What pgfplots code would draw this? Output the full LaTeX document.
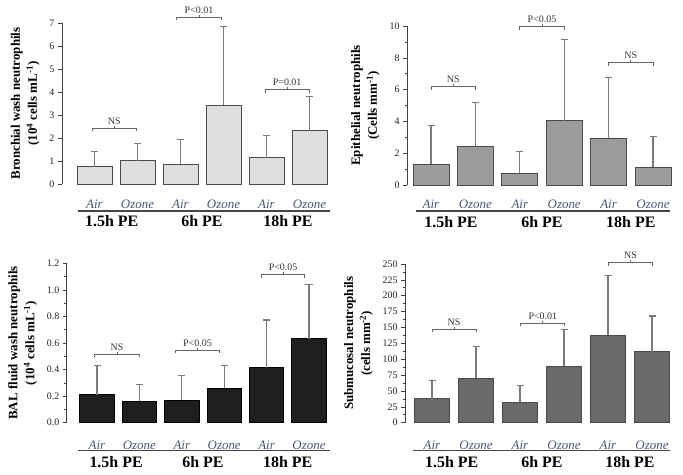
\documentclass[border=0pt]{standalone}
\usepackage{fontspec}
\setmainfont{Liberation Serif}
\usepackage{pgfplots}
\pgfplotsset{compat=1.18}
\definecolor{lbl}{HTML}{4B5478}
\definecolor{errc}{HTML}{7A7A7A}
\definecolor{fillA}{HTML}{DEDEDE}
\definecolor{fillB}{HTML}{9C9C9C}
\definecolor{fillC}{HTML}{1E1E1E}
\definecolor{fillD}{HTML}{6A6A6A}
\definecolor{edge}{HTML}{4A4A4A}

\tikzset{
  grp/.style={font=\fontsize{16}{18}\selectfont\bfseries},
  ptxt/.style={above, inner sep=1pt, font=\fontsize{10}{12}\selectfont, text=black!80},
  uline/.style={draw=black!72, line width=1.2bp},
}

\pgfplotsset{
  panel/.style={
    anchor=origin, clip=false, ybar, enlargelimits=false,
    axis y line*=left, axis x line*=bottom,
    x axis line style={draw=none},
    y axis line style={-, draw=black!75, line width=0.8bp},
    xtick={0,...,5}, xticklabels={Air,Ozone,Air,Ozone,Air,Ozone},
    major x tick style={draw=none},
    xticklabel style={anchor=center, font=\fontsize{13}{15}\selectfont\itshape, text=lbl},
    ymin=0,
    tick align=outside,
    major tick length=4bp, minor tick length=2.5bp,
    y tick style={black!75, line width=0.6bp},
    yticklabel style={font=\fontsize{10}{12}\selectfont, text=black!85},
    /pgf/number format/assume math mode=true,
    ylabel style={font=\fontsize{13}{17}\selectfont\bfseries, align=center},
    ylabel shift=3bp,
  },
  eb/.style={
    error bars/.cd, y dir=plus, y explicit,
    error bar style={errc, line width=1.2bp},
    error mark options={errc, line width=1.2bp, mark size=3.5bp, rotate=90},
  },
  br/.style={sharp plot, mark=none, forget plot, black!60, line width=0.8bp},
}

\begin{document}
\begin{tikzpicture}
\useasboundingbox (0,0) rectangle (683bp,-475bp);

% Panel 1
\begin{axis}[panel, name=p1, at={(94.5bp,-184bp)}, x=43bp, y=23bp,
  xmin=-0.756, xmax=5.5, ymax=7, ytick={0,1,...,7}, bar width=35bp,
  xticklabel style={yshift=-16bp},
  ylabel={Bronchial wash neutrophils\\(10\textsuperscript{4} cells mL\textsuperscript{-1})}]
\addplot[fill=fillA, draw=edge, line width=0.8bp, eb] coordinates {
  (0,0.755) +- (0,0.655)
  (1,1.02) +- (0,0.75)
  (2,0.86) +- (0,1.09)
  (3,3.43) +- (0,3.42)
  (4,1.15) +- (0,0.96)
  (5,2.32) +- (0,1.48)
};
\addplot[br] coordinates {(-0.06,2.30) (-0.06,2.43) (0.98,2.43) (0.98,2.30)};
\addplot[br] coordinates {(0.46,2.43) (0.46,2.539)};
\node[ptxt] at (axis cs:0.46,2.539) {NS};
\addplot[br] coordinates {(1.91,7.13) (1.91,7.26) (2.94,7.26) (2.94,7.13)};
\addplot[br] coordinates {(2.43,7.26) (2.43,7.369)};
\node[ptxt] at (axis cs:2.43,7.369) {P<0.01};
\addplot[br] coordinates {(3.97,3.97) (3.97,4.10) (4.99,4.10) (4.99,3.97)};
\addplot[br] coordinates {(4.48,4.10) (4.48,4.209)};
\node[ptxt] at (axis cs:4.48,4.209) {P=0.01};
\node[grp] at ([yshift=-37bp]axis cs:0.4,0) {1.5h PE};
\node[grp] at ([yshift=-37bp]axis cs:2.5,0) {6h PE};
\node[grp] at ([yshift=-37bp]axis cs:4.5,0) {18h PE};
\end{axis}
\draw[uline] ([xshift=-16.3bp, yshift=-27bp]p1.origin) -- ([xshift=235.6bp, yshift=-27bp]p1.origin);

% Panel 2
\begin{axis}[panel, name=p2, at={(431bp,-185bp)}, x=44.4bp, y=15.9bp,
  xmin=-0.54, xmax=5.4, ymax=10, ytick={0,2,...,10}, minor y tick num=1, bar width=36bp,
  xticklabel style={yshift=-15bp},
  ylabel={Epithelial neutrophils\\(Cells mm\textsuperscript{-1})}]
\addplot[fill=fillB, draw=edge, line width=0.8bp, eb] coordinates {
  (0,1.32) +- (0,2.41)
  (1,2.43) +- (0,2.77)
  (2,0.75) +- (0,1.35)
  (3,4.05) +- (0,5.11)
  (4,2.96) +- (0,3.81)
  (5,1.11) +- (0,1.93)
};
\addplot[br] coordinates {(0,5.991) (0,6.18) (1,6.18) (1,5.991)};
\addplot[br] coordinates {(0.5,6.18) (0.5,6.337)};
\node[ptxt] at (axis cs:0.5,6.337) {NS};
\addplot[br] coordinates {(2,9.771) (2,9.96) (3,9.96) (3,9.771)};
\addplot[br] coordinates {(2.5,9.96) (2.5,10.117)};
\node[ptxt] at (axis cs:2.5,10.117) {P<0.05};
\addplot[br] coordinates {(4,7.501) (4,7.69) (5,7.69) (5,7.501)};
\addplot[br] coordinates {(4.5,7.69) (4.5,7.847)};
\node[ptxt] at (axis cs:4.5,7.847) {NS};
\node[grp] at ([yshift=-37bp]axis cs:0.45,0) {1.5h PE};
\node[grp] at ([yshift=-37bp]axis cs:2.5,0) {6h PE};
\node[grp] at ([yshift=-37bp]axis cs:4.5,0) {18h PE};
\end{axis}
\draw[uline] ([xshift=-15.1bp, yshift=-26bp]p2.origin) -- ([xshift=238.9bp, yshift=-26bp]p2.origin);

% Panel 3
\begin{axis}[panel, name=p3, at={(97bp,-422.7bp)}, x=42.4bp, y=132.8bp,
  xmin=-0.71, xmax=5.5, ymax=1.2, ytick={0,0.2,...,1.21}, minor y tick num=1, bar width=34.3bp,
  yticklabel style={/pgf/number format/.cd, fixed, fixed zerofill, precision=1},
  xticklabel style={yshift=-19bp},
  ylabel={BAL fluid wash neutrophils\\(10\textsuperscript{4} cells mL\textsuperscript{-1})}]
\addplot[fill=fillC, draw=black, line width=0.8bp, eb] coordinates {
  (0,0.211) +- (0,0.221)
  (1,0.161) +- (0,0.128)
  (2,0.168) +- (0,0.186)
  (3,0.261) +- (0,0.171)
  (4,0.414) +- (0,0.359)
  (5,0.633) +- (0,0.409)
};
\addplot[br] coordinates {(-0.05,0.4944) (-0.05,0.517) (0.99,0.517) (0.99,0.4944)};
\addplot[br] coordinates {(0.47,0.517) (0.47,0.5358)};
\node[ptxt] at (axis cs:0.47,0.5358) {NS};
\addplot[br] coordinates {(1.85,0.5244) (1.85,0.547) (2.88,0.547) (2.88,0.5244)};
\addplot[br] coordinates {(2.37,0.547) (2.37,0.5658)};
\node[ptxt] at (axis cs:2.37,0.5658) {P<0.05};
\addplot[br] coordinates {(3.88,1.0924) (3.88,1.115) (4.9,1.115) (4.9,1.0924)};
\addplot[br] coordinates {(4.39,1.115) (4.39,1.1338)};
\node[ptxt] at (axis cs:4.39,1.1338) {P<0.05};
\node[grp] at ([yshift=-39bp]axis cs:0.45,0) {1.5h PE};
\node[grp] at ([yshift=-39bp]axis cs:2.5,0) {6h PE};
\node[grp] at ([yshift=-39bp]axis cs:4.5,0) {18h PE};
\end{axis}
\draw[uline] ([xshift=-19.1bp, yshift=-28bp]p3.origin) -- ([xshift=233.2bp, yshift=-28bp]p3.origin);

% Panel 4
\begin{axis}[panel, name=p4, at={(432bp,-422.7bp)}, x=44bp, y=0.635bp,
  xmin=-0.61, xmax=5.4, ymax=250, ytick={0,25,...,250}, minor y tick num=1, bar width=35bp,
  xticklabel style={yshift=-19bp},
  ylabel={Submucosal neutrophils\\(cells mm\textsuperscript{-2})}]
\addplot[fill=fillD, draw=edge, line width=0.8bp, eb] coordinates {
  (0,37.8) +- (0,28.9)
  (1,70.4) +- (0,49.3)
  (2,32.6) +- (0,26.2)
  (3,89.3) +- (0,57.7)
  (4,138.1) +- (0,93.9)
  (5,111.9) +- (0,56.1)
};
\addplot[br] coordinates {(0,142.28) (0,147) (1,147) (1,142.28)};
\addplot[br] coordinates {(0.5,147) (0.5,150.94)};
\node[ptxt] at (axis cs:0.5,150.94) {NS};
\addplot[br] coordinates {(2.02,151.78) (2.02,156.5) (3.02,156.5) (3.02,151.78)};
\addplot[br] coordinates {(2.52,156.5) (2.52,160.44)};
\node[ptxt] at (axis cs:2.52,160.44) {P<0.01};
\addplot[br] coordinates {(4.02,247.28) (4.02,252) (5,252) (5,247.28)};
\addplot[br] coordinates {(4.51,252) (4.51,255.94)};
\node[ptxt] at (axis cs:4.51,255.94) {NS};
\node[grp] at ([yshift=-39bp]axis cs:0.45,0) {1.5h PE};
\node[grp] at ([yshift=-39bp]axis cs:2.5,0) {6h PE};
\node[grp] at ([yshift=-39bp]axis cs:4.5,0) {18h PE};
\end{axis}
\draw[uline] ([xshift=-18.9bp, yshift=-28bp]p4.origin) -- ([xshift=238bp, yshift=-28bp]p4.origin);
\end{tikzpicture}
\end{document}
